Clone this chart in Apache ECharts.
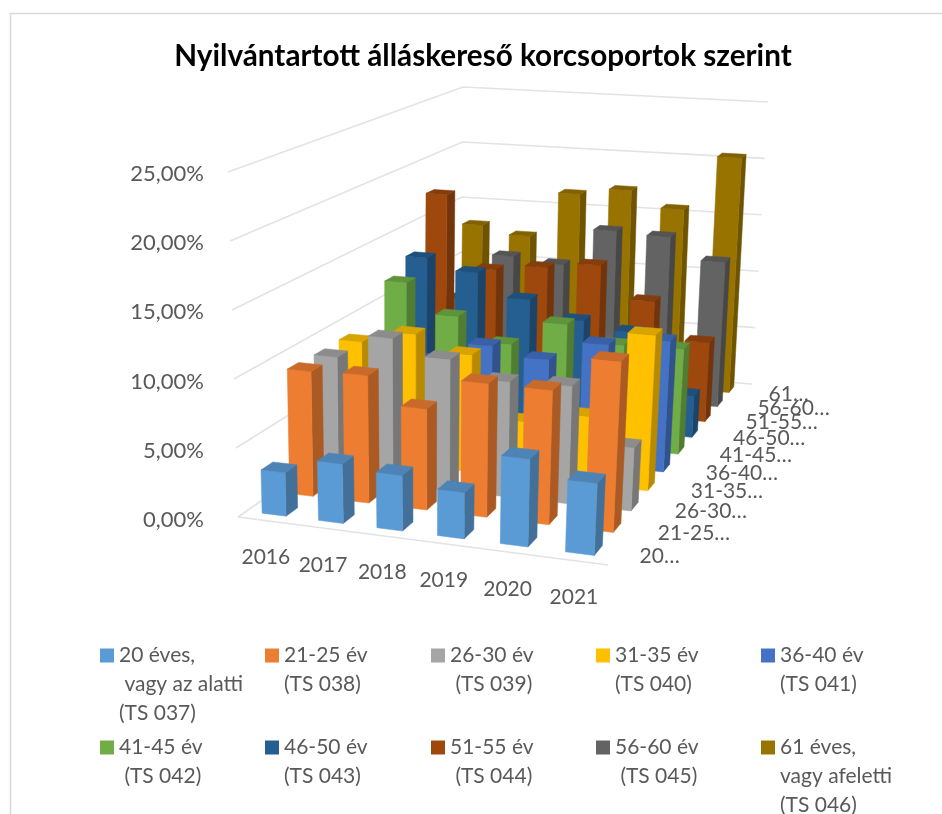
<!DOCTYPE html>
<html>
<head>
<meta charset="utf-8">
<style>html,body{margin:0;padding:0;background:#fff;overflow:hidden}#chart{width:942px;height:814px}</style>
<script src="https://cdn.jsdelivr.net/npm/echarts@6/dist/echarts.min.js"></script>
</head>
<body>
<div id="chart"></div>
<script>
const years = ['2016', '2017', '2018', '2019', '2020', '2021'];
const depthLabels = ['20…', '21-25…', '26-30…', '31-35…', '36-40…', '41-45…', '46-50…', '51-55…', '56-60…', '61…'];
const legendNames = [
  '20 éves,\n vagy az alatti\n(TS 037)', '21-25 év\n(TS 038)', '26-30 év\n (TS 039)', '31-35 év\n(TS 040)', '36-40 év\n(TS 041)',
  '41-45 év\n (TS 042)', '46-50 év\n(TS 043)', '51-55 év\n (TS 044)', '56-60 év\n (TS 045)', '61 éves,\nvagy afeletti\n(TS 046)'
];
const colors = ['#5B9BD5', '#ED7D31', '#A5A5A5', '#FFC000', '#4472C4', '#70AD47', '#255E91', '#9E480E', '#636363', '#997300'];
const ticks = [0, 5, 10, 15, 20, 25];

const age20 = [3.15, 4.3, 4.0, 3.3, 6.25, 5.1];
const age21 = [9.3, 9.45, 7.45, 9.8, 9.8, 12.4];
const age26 = [9.2, 11.05, 9.9, 8.65, 8.8, 4.7];
const age31 = [9.25, 10.25, 9.05, 4.3, 5.2, 11.85];
const age36 = [7.5, 7.0, 8.6, 7.9, 9.5, 10.2];
const age41 = [11.9, 9.5, 7.6, 9.6, 8.3, 8.4];
const age46 = [13.0, 12.1, 10.2, 8.8, 8.2, 3.4];
const age51 = [17.5, 11.4, 11.9, 12.4, 9.7, 6.6];
const age56 = [7.6, 11.6, 11.2, 14.4, 14.2, 12.35];
const age61 = [13.2, 12.5, 16.5, 17.1, 15.7, 20.5];
const allAges = [age20, age21, age26, age31, age36, age41, age46, age51, age56, age61];

// sarkok: padlo es a 25%-os sik
const floorQuad = [[238, 517], [608, 565], [752, 384], [460, 362]];
const ceilQuad = [[228, 172], [625, 208], [768, 102], [463, 87]];
const BAR_W = 0.43, BAR_D = 0.42;
const labelColor = '#595959';
const labelFont = '21px Lato';

function makeHomography(q) {
  const [p00, p10, p11, p01] = q;
  const dx1 = p10[0] - p11[0], dx2 = p01[0] - p11[0], sx = p00[0] - p10[0] + p11[0] - p01[0];
  const dy1 = p10[1] - p11[1], dy2 = p01[1] - p11[1], sy = p00[1] - p10[1] + p11[1] - p01[1];
  const det = dx1 * dy2 - dx2 * dy1;
  const g = (sx * dy2 - dx2 * sy) / det;
  const h = (dx1 * sy - sx * dy1) / det;
  const a = p10[0] - p00[0] + g * p10[0], b = p01[0] - p00[0] + h * p01[0];
  const d = p10[1] - p00[1] + g * p10[1], e = p01[1] - p00[1] + h * p01[1];
  return (u, w) => {
    const den = g * u + h * w + 1;
    return [(a * u + b * w + p00[0]) / den, (d * u + e * w + p00[1]) / den];
  };
}
const floorAt = makeHomography(floorQuad);
const ceilAt = makeHomography(ceilQuad);

function project(u, w, t) {
  const f = floorAt(u, w), c = ceilAt(u, w);
  return [f[0] + (c[0] - f[0]) * t, f[1] + (c[1] - f[1]) * t];
}
// ertek -> 0..1 magassag az y tengelyen keresztul
function heightOf(api, v) {
  const y0 = api.coord([0, 0])[1], yMax = api.coord([0, 25])[1];
  return (y0 - api.coord([0, v])[1]) / (y0 - yMax);
}
function shade(hex, k) {
  const n = parseInt(hex.slice(1), 16);
  const c = [(n >> 16) & 255, (n >> 8) & 255, n & 255].map(x => Math.round(x * k));
  return 'rgb(' + c.join(',') + ')';
}
function poly(points, fill) {
  return { type: 'polygon', shape: { points }, style: { fill, stroke: fill, lineWidth: 0.5 } };
}

function barRenderer(j) {
  return function (params, api) {
    const i = api.value(0);
    const t = heightOf(api, api.value(1));
    const du = BAR_W / 12, dw = BAR_D / 20;
    const u = (i + 0.5) / 6, w = (j + 0.5) / 10;
    const fl0 = project(u - du, w - dw, 0), fr0 = project(u + du, w - dw, 0), br0 = project(u + du, w + dw, 0);
    const flT = project(u - du, w - dw, t), frT = project(u + du, w - dw, t), brT = project(u + du, w + dw, t), blT = project(u - du, w + dw, t);
    return {
      type: 'group',
      children: [
        poly([fr0, br0, brT, frT], shade(colors[j], 0.72)),
        poly([fl0, fr0, frT, flT], colors[j]),
        poly([flT, frT, brT, blT], shade(colors[j], 0.85))
      ]
    };
  };
}

const series = [];
// falak racsvonalai
series.push({
  type: 'custom', name: 'racs', silent: true, clip: false,
  data: ticks.map(v => [0, v]),
  renderItem: function (params, api) {
    const t = heightOf(api, api.value(1));
    const pts = [project(0, 0, t), project(0, 1, t), project(1, 1, t)];
    const children = [{ type: 'polyline', shape: { points: pts }, style: { stroke: '#e3e3e3', lineWidth: 1.6, fill: 'none' } }];
    if (t === 0) {
      children.push({ type: 'line', shape: { x1: pts[0][0], y1: pts[0][1], x2: project(1, 0, 0)[0], y2: project(1, 0, 0)[1] }, style: { stroke: '#e3e3e3', lineWidth: 1.6 } });
    }
    return { type: 'group', children };
  }
});
// hatulrol elore rajzolunk
for (let j = allAges.length - 1; j >= 0; j--) {
  series.push({
    type: 'custom', name: legendNames[j], clip: false,
    itemStyle: { color: colors[j] },
    data: allAges[j].map((v, i) => [i, v]),
    renderItem: barRenderer(j)
  });
}
series.push({
  type: 'custom', name: 'evek', silent: true, clip: false,
  data: years.map((y, i) => [i, 0]),
  renderItem: function (params, api) {
    const i = api.value(0);
    const p = floorAt((i + 0.5) / 6, 0);
    return { type: 'text', style: { text: years[i], x: p[0], y: p[1] + 37, fill: labelColor, font: labelFont, align: 'center', verticalAlign: 'middle' } };
  }
});
series.push({
  type: 'custom', name: 'korok', silent: true, clip: false,
  data: depthLabels.map((y, j) => [j, 0]),
  renderItem: function (params, api) {
    const j = params.dataIndex;
    const p = floorAt(1, (j + 0.5) / 10);
    return { type: 'text', style: { text: depthLabels[j], x: p[0] + 22, y: p[1] + 3, fill: labelColor, font: labelFont, align: 'left', verticalAlign: 'middle' } };
  }
});

const legendX = [95, 260, 426, 591, 756];
const legendY = [641, 733];
const legends = legendNames.map((name, j) => ({
  data: [name],
  left: legendX[j % 5],
  top: legendY[Math.floor(j / 5)],
  padding: 0,
  itemWidth: 0,
  itemHeight: 0,
  selectedMode: false,
  formatter: n => n.split('\n').map((line, k) => (k === 0 ? '{box|}{gap|}' : '{pad|}') + line).join('\n'),
  textStyle: {
    color: labelColor, fontFamily: 'Lato', fontSize: 21, lineHeight: 29, padding: 0,
    rich: {
      box: { width: 14, height: 14, backgroundColor: colors[j] },
      gap: { width: 5 },
      pad: { width: 19 }
    }
  }
}));

const chart = echarts.init(document.getElementById('chart'));
chart.setOption({
  animation: false,
  backgroundColor: '#fff',
  title: {
    text: 'Nyilvántartott álláskereső korcsoportok szerint',
    left: 478, top: 36, textAlign: 'center',
    textStyle: { color: '#000', fontFamily: 'Lato', fontWeight: 'bold', fontSize: 29.7 }
  },
  grid: { left: 212, top: 174, width: 300, height: 346 },
  xAxis: { type: 'category', data: years, show: false },
  yAxis: {
    type: 'value', min: 0, max: 25, interval: 5,
    axisLine: { show: false }, axisTick: { show: false }, splitLine: { show: false },
    axisLabel: { color: labelColor, fontFamily: 'Lato', fontSize: 22, margin: 8, formatter: v => v.toFixed(2).replace('.', ',') + '%' }
  },
  legend: legends,
  graphic: [{ type: 'rect', silent: true, z: -10, shape: { x: 10.5, y: 13.5, width: 960, height: 840 }, style: { fill: 'none', stroke: '#d9d9d9', lineWidth: 1.5 } }],
  series
});
</script>
</body>
</html>
